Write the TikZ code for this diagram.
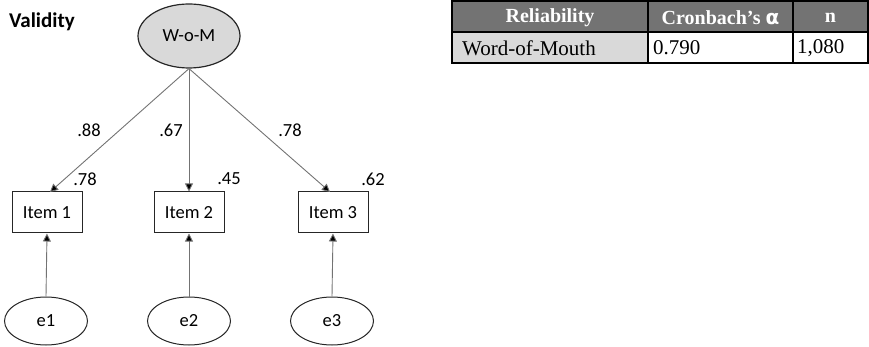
\documentclass[tikz,border=0pt]{standalone}
\usepackage{fontspec}
\setmainfont{Carlito}
\newfontfamily\tnr{Liberation Serif}
\newfontfamily\alphafont{DejaVu Sans}
\usetikzlibrary{arrows.meta,shapes.geometric}
\definecolor{hdr}{HTML}{737373}
\definecolor{lgray}{HTML}{D9D9D9}
\definecolor{latent}{HTML}{D9D9D9}
\tikzset{
  dfont/.style={font=\fontsize{18.5}{21}\selectfont},
  latentnode/.style={ellipse, draw=black!85, line width=1.2pt, fill=latent, minimum width=102pt, minimum height=64pt, inner sep=0pt, dfont},
  errnode/.style={ellipse, draw=black!85, line width=1pt, minimum width=83pt, minimum height=48pt, inner sep=0pt, dfont},
  itemnode/.style={rectangle, draw=black!85, line width=1pt, minimum width=70pt, minimum height=41pt, inner sep=0pt, dfont},
  pathline/.style={draw=black!55, line width=0.9pt, -{Triangle[length=8pt,width=8pt,fill=black]}},
  coef/.style={dfont, inner sep=0pt},
  cellh/.style={draw=black, line width=1.2pt, fill=hdr},
  cell/.style={draw=black, line width=1.2pt},
  htext/.style={text=white, font=\tnr\bfseries\fontsize{20}{22}\selectfont, inner sep=0pt},
  btext/.style={font=\tnr\fontsize{21}{23}\selectfont, inner sep=0pt, anchor=west},
}
\begin{document}
\begin{tikzpicture}[x=1pt,y=-1pt]
\useasboundingbox (0,0) rectangle (869,347);
\node[font=\bfseries\fontsize{21}{23}\selectfont, anchor=west, inner sep=0pt] (title) at (9,22) {Validity};
\node[latentnode] (wom) at (189,36) {W-o-M};
\node[itemnode] (i1) at (47,212.5) {Item 1};
\node[itemnode] (i2) at (189,212.5) {Item 2};
\node[itemnode] (i3) at (333,212.5) {Item 3};
\node[errnode] (e1) at (46,321) {e1};
\node[errnode] (e2) at (189,321) {e2};
\node[errnode] (e3) at (332,321) {e3};
\coordinate (t1) at (50,192);
\coordinate (t3) at (330,192);
\draw[pathline] (wom.south) -- (t1);
\draw[pathline] (wom.south) -- (i2.north);
\draw[pathline] (wom.south) -- (t3);
\draw[pathline] (e1.north) -- (i1.south);
\draw[pathline] (e2.north) -- (i2.south);
\draw[pathline] (e3.north) -- (i3.south);
\node[coef] (c1) at (89,130) {.88};
\node[coef] (c2) at (171,130) {.67};
\node[coef] (c3) at (290,130) {.78};
\node[coef] (r1) at (85,179) {.78};
\node[coef] (r2) at (229,179) {.45};
\node[coef] (r3) at (373,179) {.62};
% table
\path[cell, fill=lgray] (452,32) rectangle (648,63);
\path[cell] (648,32) rectangle (793,63);
\path[cell] (793,32) rectangle (868,63);
\path[cellh] (452,1) rectangle (648,32);
\path[cellh] (648,1) rectangle (793,32);
\path[cellh] (793,1) rectangle (868,32);
\node[htext] (h1) at (550,17.5) {Reliability};
\node[htext] (h2) at (720.5,17.5) {Cronbach’s {\alphafont\bfseries α}};
\node[htext] (h3) at (830.5,17.5) {n};
\node[btext] (b1) at (462,48) {Word-of-Mouth};
\node[btext] (b2) at (653,48) {0.790};
\node[btext] (b3) at (797,48) {1,080};
\end{tikzpicture}
\end{document}
